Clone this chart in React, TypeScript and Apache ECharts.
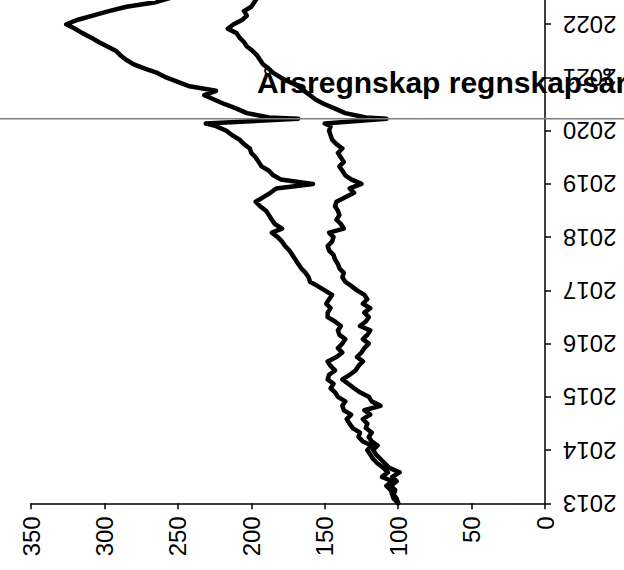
import React, { useEffect, useRef } from "react";
import * as echarts from "echarts";

const dates = [
  "2013-01-01","2013-02-01","2013-03-01","2013-04-01","2013-05-01","2013-06-01","2013-07-01","2013-08-01","2013-09-01","2013-10-01","2013-11-01","2013-12-01",
  "2014-01-01","2014-02-01","2014-03-01","2014-04-01","2014-05-01","2014-06-01","2014-07-01","2014-08-01","2014-09-01","2014-10-01","2014-11-01","2014-12-01",
  "2015-01-01","2015-02-01","2015-03-01","2015-04-01","2015-05-01","2015-06-01","2015-07-01","2015-08-01","2015-09-01","2015-10-01","2015-11-01","2015-12-01",
  "2016-01-01","2016-02-01","2016-03-01","2016-04-01","2016-05-01","2016-06-01","2016-07-01","2016-08-01","2016-09-01","2016-10-01","2016-11-01","2016-12-01",
  "2017-01-01","2017-02-01","2017-03-01","2017-04-01","2017-05-01","2017-06-01","2017-07-01","2017-08-01","2017-09-01","2017-10-01","2017-11-01","2017-12-01",
  "2018-01-01","2018-02-01","2018-03-01","2018-04-01","2018-05-01","2018-06-01","2018-07-01","2018-08-01","2018-09-01","2018-10-01","2018-11-01","2018-12-01",
  "2019-01-01","2019-02-01","2019-03-01","2019-04-01","2019-05-01","2019-06-01","2019-07-01","2019-08-01","2019-09-01","2019-10-01","2019-11-01","2019-12-01",
  "2020-01-01","2020-02-01","2020-02-19","2020-03-23","2020-04-01","2020-05-01","2020-06-01","2020-07-01","2020-08-01","2020-09-01","2020-10-01","2020-11-01","2020-12-01",
  "2021-01-01","2021-02-01","2021-03-01","2021-04-01","2021-05-01","2021-06-01","2021-07-01","2021-08-01","2021-09-01","2021-10-01","2021-11-01","2021-12-01",
  "2022-01-01","2022-02-01","2022-03-01","2022-04-01","2022-05-01","2022-06-01","2022-07-01",
];

const seriesA = [
  100, 103, 104, 105, 108, 104, 111, 107, 110, 114, 117, 119,
  121, 118, 124, 127, 126, 131, 133, 135, 132, 137, 138, 136,
  141, 143, 146, 144, 148, 147, 143, 146, 148, 142, 138, 141,
  138, 136, 140, 141, 139, 143, 148, 148, 146, 149, 147, 145,
  150, 155, 160, 161, 163, 166, 168, 170, 172, 174, 177, 179,
  182, 186, 179, 184, 186, 188, 190, 194, 197, 192, 187, 183,
  158, 180, 185, 188, 193, 195, 197, 200, 201, 205, 208, 213,
  217, 224, 231, 168, 188, 203, 210, 218, 225, 232, 224, 242, 250,
  258, 264, 272, 280, 285, 289, 292, 298, 304, 309, 315, 320,
  326, 318, 308, 297, 285, 265, 255,
];

const seriesB = [
  100, 101, 103, 102, 105, 101, 104, 99, 106, 109, 112, 115,
  117, 114, 118, 120, 118, 122, 121, 124, 119, 123, 112, 118,
  120, 126, 130, 134, 138, 133, 129, 127, 124, 128, 125, 123,
  120, 124, 121, 119, 126, 122, 120, 123, 119, 124, 121, 123,
  128, 132, 136, 138, 137, 140, 141, 143, 144, 147, 148, 145,
  144, 147, 137, 139, 142, 140, 141, 143, 142, 136, 130, 133,
  125, 132, 136, 138, 140, 137, 139, 141, 138, 142, 145, 146,
  147, 146, 150, 108, 122, 136, 143, 150, 156, 160, 164, 168, 174,
  180, 185, 188, 192, 194, 196, 199, 203, 205, 208, 210, 216,
  212, 206, 203, 205, 200, 198, 196,
];

const markDate = "2020-03-23";
const titleText = "Årsregnskap regnskapsår";
const FONT = "Liberation Sans, Arial, sans-serif";
const OFFSET = 29.3; // chart div starts above the visible page

function toYear(s: string): number {
  const [y, m, d] = s.split("-").map(Number);
  const start = Date.UTC(y, 0, 1);
  const end = Date.UTC(y + 1, 0, 1);
  return y + (Date.UTC(y, m - 1, d) - start) / (end - start);
}

export default function App() {
  const ref = useRef<HTMLDivElement>(null);
  useEffect(() => {
    if (!ref.current) return;
    const chart = echarts.init(ref.current, null, { renderer: "svg" });
    const mk = (vals: number[]) => dates.map((d, i) => [vals[i], toYear(d)]);
    const axisText = { color: "#000", fontSize: 24, fontFamily: FONT };
    chart.setOption({
      animation: false,
      backgroundColor: "#fff",
      grid: { left: 31, right: 79, top: 0, bottom: 66.7, containLabel: false, outerBoundsMode: "none" },
      xAxis: {
        type: "value",
        inverse: true,
        min: 0,
        max: 350,
        interval: 50,
        position: "bottom",
        splitLine: { show: false },
        axisLine: { onZero: false, lineStyle: { color: "#000", width: 1.5 } },
        axisTick: { length: 6, lineStyle: { color: "#000", width: 1.5 } },
        axisLabel: { ...axisText, rotate: 90, margin: 13 },
      },
      yAxis: {
        type: "value",
        position: "right",
        min: 2013,
        max: 2023,
        interval: 1,
        splitLine: { show: false },
        axisLine: { onZero: false, lineStyle: { color: "#000", width: 1.5 } },
        axisTick: { length: 6, lineStyle: { color: "#000", width: 1.5 } },
        axisLabel: { ...axisText, rotate: 180, margin: 18, showMaxLabel: false, formatter: (v: number) => String(v) },
      },
      series: [
        {
          type: "line",
          data: mk(seriesA),
          showSymbol: false,
          lineStyle: { color: "#000", width: 4.5, join: "round", cap: "round" },
          z: 3,
        },
        {
          type: "line",
          data: mk(seriesB),
          showSymbol: false,
          lineStyle: { color: "#000", width: 4.5, join: "round", cap: "round" },
          z: 3,
        },
      ],
    });
    const yMark = chart.convertToPixel({ yAxisIndex: 0 }, toYear(markDate)) as number;
    chart.setOption({
      graphic: [
        {
          id: "title",
          type: "text",
          left: 257,
          top: 67 + OFFSET,
          z: 10,
          style: { text: titleText, fill: "#000", fontSize: 30, fontWeight: "bold", fontFamily: FONT },
        },
        {
          id: "mark",
          type: "line",
          z: 10,
          shape: { x1: 0, y1: yMark, x2: 624, y2: yMark },
          style: { stroke: "#808080", lineWidth: 1.5 },
        },
      ],
    });
    return () => chart.dispose();
  }, []);
  return (
    <div style={{ position: "fixed", left: 0, top: 0, width: 624, height: 570, overflow: "hidden", background: "#fff" }}>
      <div
        ref={ref}
        style={{ position: "absolute", left: 0, top: -OFFSET, width: 624, height: 570 + OFFSET }}
      />
    </div>
  );
}
